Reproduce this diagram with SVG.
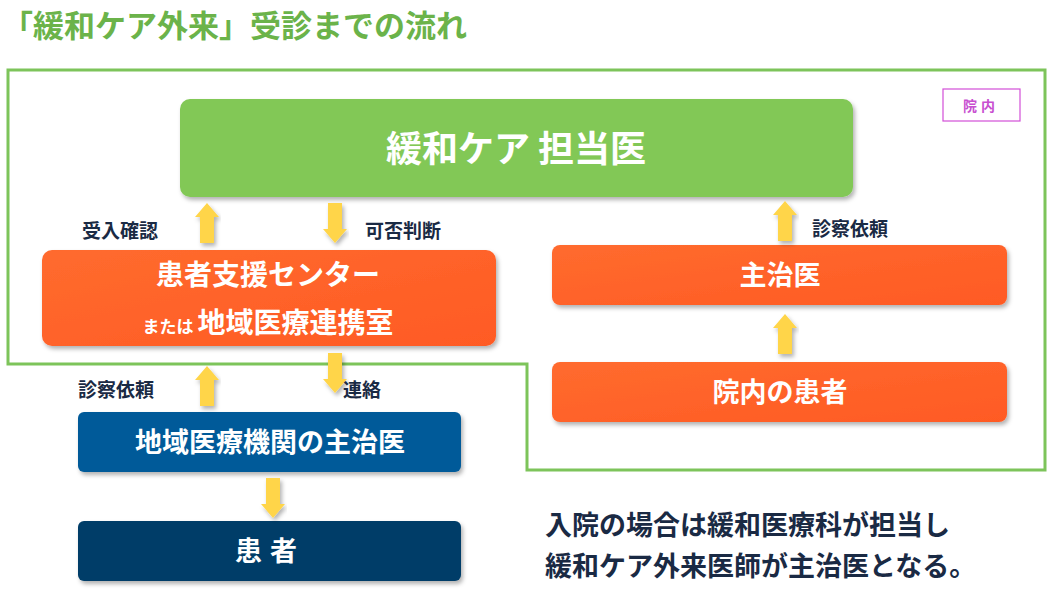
<svg xmlns="http://www.w3.org/2000/svg" width="1049" height="592" viewBox="0 0 1049 592">
<defs>
<linearGradient id="og" x1="0" y1="0" x2="1" y2="1"><stop offset="0" stop-color="#FF6B2E"/><stop offset="1" stop-color="#FF5A24"/></linearGradient>
<filter id="sh" x="-5%" y="-10%" width="110%" height="130%"><feDropShadow dx="2" dy="3" stdDeviation="2" flood-color="#000" flood-opacity="0.3"/></filter>
<path id="au" d="M-7,0 V-26 H-12 L0,-40 L12,-26 H7 V0 Z"/>
<path id="ad" d="M-7,0 V26 H-12 L0,40 L12,26 H7 V0 Z"/>
</defs>
<style>
text{font-family:"Noto Sans CJK JP",sans-serif;font-weight:bold}
.w{fill:#fff}
.lab{fill:#1a2a44;font-size:19px}
.ar{fill:#FFD54A;filter:url(#sh)}
</style>
<rect width="1049" height="592" fill="#fff"/>
<text x="2" y="37" font-size="31" fill="#6BB34A">「緩和ケア外来」受診までの流れ</text>
<path d="M8,70 H1045 V470 H527 V364 H8 Z" fill="none" stroke="#7DC45A" stroke-width="3"/>
<g id="innai"><rect x="943" y="89" width="77" height="32" fill="#fff" stroke="#D24FD8" stroke-width="1.2"/><text x="981" y="111" font-size="14" fill="#C84FD0" text-anchor="middle" font-weight="normal" letter-spacing="4">院内</text></g>
<g id="kanwa"><rect x="180" y="99" width="673" height="98" rx="10" fill="#82C857" filter="url(#sh)"/><text x="516" y="162" font-size="36" class="w" text-anchor="middle">緩和ケア 担当医</text></g>
<g id="center"><rect x="42" y="250" width="454" height="96" rx="10" fill="url(#og)" filter="url(#sh)"/><text x="268" y="285" font-size="28" class="w" text-anchor="middle">患者支援センター</text><text x="268" y="333" class="w" text-anchor="middle"><tspan font-size="17">または </tspan><tspan font-size="28">地域医療連携室</tspan></text></g>
<g id="shuji"><rect x="552" y="245" width="455" height="60" rx="8" fill="url(#og)" filter="url(#sh)"/><text x="780" y="285" font-size="27" class="w" text-anchor="middle">主治医</text></g>
<g id="innai-kanja"><rect x="552" y="362" width="455" height="60" rx="8" fill="url(#og)" filter="url(#sh)"/><text x="780" y="402" font-size="27" class="w" text-anchor="middle">院内の患者</text></g>
<g id="chiiki"><rect x="78" y="412" width="383" height="60" rx="6" fill="#025A99" filter="url(#sh)"/><text x="270" y="452" font-size="27" class="w" text-anchor="middle">地域医療機関の主治医</text></g>
<g id="kanja"><rect x="78" y="521" width="383" height="60" rx="6" fill="#023E68" filter="url(#sh)"/><text x="270" y="561" font-size="27" class="w" text-anchor="middle" letter-spacing="8">患者</text></g>
<g id="connectors">
<use href="#au" x="207" y="243" class="ar"/>
<use href="#ad" x="335" y="203" class="ar"/>
<use href="#au" x="207" y="406" class="ar"/>
<use href="#ad" x="335" y="353" class="ar"/>
<use href="#ad" x="273" y="478" class="ar"/>
<use href="#au" x="785" y="241" class="ar"/>
<use href="#au" x="785" y="354" class="ar"/>
</g>
<text x="82" y="238" class="lab">受入確認</text>
<text x="365" y="238" class="lab">可否判断</text>
<text x="812" y="236" class="lab">診察依頼</text>
<text x="78" y="397" class="lab">診察依頼</text>
<text x="343" y="397" class="lab">連絡</text>
<text x="545" y="535" font-size="27" fill="#1a2a44">入院の場合は緩和医療科が担当し</text>
<text x="545" y="576" font-size="27" fill="#1a2a44">緩和ケア外来医師が主治医となる。</text>
</svg>
